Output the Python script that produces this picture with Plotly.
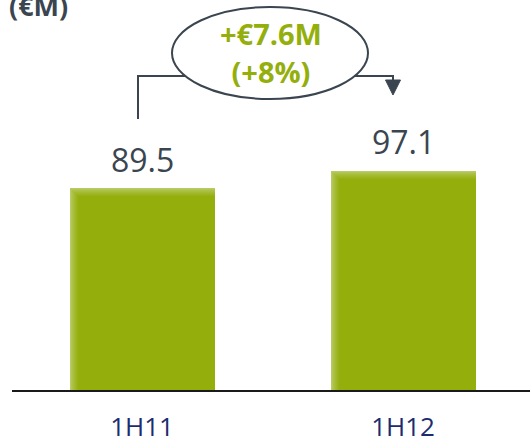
import plotly.graph_objects as go

# Revenue by half-year (€M)
periods = ["1H11", "1H12"]
revenue = [89.5, 97.1]
change_label = "+€7.6M<br>(+8%)"
unit_label = "(€M)"

W, H = 530, 438
L, R, T, B = 12, 0, 0, 48
PW, PH = W - L - R, H - T - B

GREEN = "#94AE0C"
SLATE = "#3A4550"
NAVY = "#1C2C6E"

x_pos = list(range(len(periods)))
x_range = [-0.498, 1.486]
y_range = [0, 172.8]

px_x = (x_range[1] - x_range[0]) / PW     # x units per pixel
px_y = (y_range[1] - y_range[0]) / PH     # y units per pixel
bar_w = 145 * px_x


def blend(c1, c2, t):
    a = [int(c1[i:i + 2], 16) for i in (1, 3, 5)]
    b = [int(c2[i:i + 2], 16) for i in (1, 3, 5)]
    return "#" + "".join(f"{round(p + (q - p) * t):02x}" for p, q in zip(a, b))


fig = go.Figure()

# soft-edged bars: light rim on the left and top fading into the solid fill
steps = 9
for k in range(steps):
    inset = k
    col = blend("#B9CB66", GREEN, (k / (steps - 1)) ** 0.8)
    fig.add_trace(go.Bar(
        x=x_pos,
        y=[v - inset * px_y for v in revenue],
        width=bar_w - inset * px_x,
        offset=-bar_w / 2 + inset * px_x,
        marker=dict(color=col, line=dict(width=0)),
        hoverinfo="skip",
        showlegend=False,
    ))

# value labels above bars
for xi, v in zip(x_pos, revenue):
    fig.add_annotation(
        x=xi, y=v, text=f"{v:.1f}", showarrow=False,
        yanchor="middle", yshift=29,
        font=dict(family="Open Sans", size=32, color=SLATE),
    )


def px(xp, yp):
    return (xp - L) / PW, 1 - (yp - T) / PH


def path(points, close=False):
    s = ""
    for i, (a, b) in enumerate(points):
        xx, yy = px(a, b)
        s += ("M" if i == 0 else "L") + f"{xx:.5f},{yy:.5f} "
    return s + ("Z" if close else "")


shapes = []
# bracket from first bar to second bar
shapes.append(dict(type="path", xref="paper", yref="paper",
                   path=path([(138, 119), (138, 76), (393, 76), (393, 82)]),
                   line=dict(color=SLATE, width=2)))
shapes.append(dict(type="path", xref="paper", yref="paper",
                   path=path([(385.5, 80), (400.5, 80), (393, 95)], close=True),
                   fillcolor=SLATE, line=dict(color=SLATE, width=1)))
# ellipse around the change label
x0, y0 = px(172, 99)
x1, y1 = px(368, 7)
shapes.append(dict(type="circle", xref="paper", yref="paper",
                   x0=x0, y0=y0, x1=x1, y1=y1,
                   fillcolor="white", line=dict(color=SLATE, width=2)))
fig.update_layout(shapes=shapes)

cx, cy = px(271, 53)
fig.add_annotation(
    xref="paper", yref="paper", x=cx, y=cy, text=f"<b>{change_label}</b>",
    showarrow=False, xanchor="center", yanchor="middle",
    font=dict(family="Open Sans", size=29, color=GREEN),
)

tx, ty = px(7, 0)
fig.add_annotation(
    xref="paper", yref="paper", x=tx, y=ty, text=f"<b>{unit_label}</b>",
    showarrow=False, xanchor="left", yanchor="middle", yshift=-5,
    font=dict(family="Open Sans", size=27, color=SLATE),
)

fig.update_layout(
    width=W, height=H,
    margin=dict(l=L, r=R, t=T, b=B),
    paper_bgcolor="white", plot_bgcolor="white",
    barmode="overlay", bargap=0,
    xaxis=dict(
        range=x_range, tickvals=x_pos, ticktext=periods,
        showgrid=False, zeroline=False, ticks="",
        showline=True, linecolor="#1a1a1a", linewidth=2,
        tickfont=dict(family="Open Sans", size=26, color=NAVY),
        ticklabelstandoff=13, automargin=False,
    ),
    yaxis=dict(range=y_range, visible=False, showgrid=False,
               zeroline=False, automargin=False),
)

fig.write_html("out.html")
